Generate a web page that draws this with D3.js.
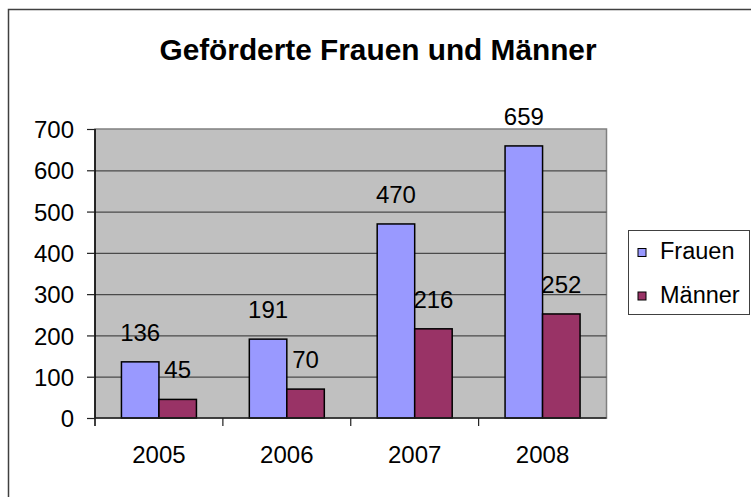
<!DOCTYPE html>
<html>
<head>
<meta charset="utf-8">
<script src="https://cdn.jsdelivr.net/npm/d3@7"></script>
<style>
  html, body { margin: 0; padding: 0; background: #fff; }
  svg { display: block; font-family: "Liberation Sans", Arial, sans-serif; }
</style>
</head>
<body>
<svg id="chart" width="751" height="497"></svg>
<script>
// Daten
const years = ["2005", "2006", "2007", "2008"];
const series = ["Frauen", "Männer"];
const frauen = [136, 191, 470, 659];
const maenner = [45, 70, 216, 252];
const yTicks = [0, 100, 200, 300, 400, 500, 600, 700];
const colors = ["#9999ff", "#993366"];

const svg = d3.select("#chart");

// Rahmen um das ganze Diagramm
svg.append("rect")
  .attr("x", 8.5).attr("y", 9.5)
  .attr("width", 800).attr("height", 600)
  .attr("fill", "#fff")
  .attr("stroke", "#404040")
  .attr("stroke-width", 1.5);

// Titel
svg.append("text")
  .attr("x", 378).attr("y", 59.5)
  .attr("text-anchor", "middle")
  .style("font-size", "29.8px")
  .style("font-weight", "bold")
  .text("Geförderte Frauen und Männer");

// Skalen
const x0 = d3.scaleBand().domain(years).range([95, 606.5]);
const x1 = d3.scaleBand().domain(series)
  .range([0, x0.bandwidth()])
  .paddingInner(0).paddingOuter(0.705);
const y = d3.scaleLinear().domain([0, 700]).range([418, 129]);

// Zeichenfläche
svg.append("rect")
  .attr("x", 95).attr("y", y(700))
  .attr("width", 606.5 - 95).attr("height", y(0) - y(700))
  .attr("fill", "#c0c0c0")
  .attr("stroke", "#808080")
  .attr("stroke-width", 1.5);

// Gitternetzlinien
svg.append("g")
  .selectAll("line")
  .data(yTicks.filter(d => d > 0 && d < 700))
  .enter().append("line")
  .attr("x1", 95).attr("x2", 606.5)
  .attr("y1", d => y(d) + 0.5).attr("y2", d => y(d) + 0.5)
  .attr("stroke", "#4a4a4a")
  .attr("stroke-width", 1.2);

// Balken
const data = years.map((yr, i) => ({ year: yr, values: [frauen[i], maenner[i]] }));

const groups = svg.append("g")
  .selectAll("g")
  .data(data)
  .enter().append("g")
  .attr("transform", d => `translate(${x0(d.year)},0)`);

groups.selectAll("rect")
  .data(d => d.values.map((v, j) => ({ key: series[j], value: v, idx: j })))
  .enter().append("rect")
  .attr("x", d => x1(d.key))
  .attr("y", d => y(d.value))
  .attr("width", x1.bandwidth())
  .attr("height", d => y(0) - y(d.value))
  .attr("fill", d => colors[d.idx])
  .attr("stroke", "#000")
  .attr("stroke-width", 1.5);

groups.selectAll("text")
  .data(d => d.values.map((v, j) => ({ key: series[j], value: v })))
  .enter().append("text")
  .attr("x", d => x1(d.key) + x1.bandwidth() / 2)
  .attr("y", d => y(d.value) - 21)
  .attr("text-anchor", "middle")
  .style("font-size", "24px")
  .text(d => d.value);

// Y-Achse
const yAxis = d3.axisLeft(y).tickValues(yTicks).tickSize(8).tickPadding(13);
const gy = svg.append("g")
  .attr("transform", "translate(95,0)")
  .call(yAxis);
gy.select(".domain").attr("stroke", "#000").attr("stroke-width", 1.5)
  .attr("d", `M0,${y(700)}V${y(0) + 8}`);
gy.selectAll(".tick line").attr("stroke", "#202020").attr("stroke-width", 1.2);
gy.selectAll(".tick text")
  .style("font-size", "24px")
  .style("font-family", "'Liberation Sans', Arial, sans-serif")
  .attr("fill", "#000")
  .attr("dy", "0.36em");

// X-Achse
svg.append("line")
  .attr("x1", 95).attr("x2", 606.5)
  .attr("y1", y(0)).attr("y2", y(0))
  .attr("stroke", "#202020")
  .attr("stroke-width", 1.5);

svg.append("g")
  .selectAll("line")
  .data(years.slice(1))
  .enter().append("line")
  .attr("x1", d => x0(d)).attr("x2", d => x0(d))
  .attr("y1", y(0)).attr("y2", y(0) + 8)
  .attr("stroke", "#202020")
  .attr("stroke-width", 1.2);

svg.append("g")
  .selectAll("text")
  .data(years)
  .enter().append("text")
  .attr("x", d => x0(d) + x0.bandwidth() / 2)
  .attr("y", 463)
  .attr("text-anchor", "middle")
  .style("font-size", "24px")
  .text(d => d);

// Legende
const legend = svg.append("g");
legend.append("rect")
  .attr("x", 628.5).attr("y", 230.5)
  .attr("width", 121).attr("height", 84)
  .attr("fill", "#fff")
  .attr("stroke", "#404040")
  .attr("stroke-width", 1);

const items = legend.selectAll("g.item")
  .data(series)
  .enter().append("g")
  .attr("class", "item")
  .attr("transform", (d, i) => `translate(0,${i * 43.5})`);

items.append("rect")
  .attr("x", 638).attr("y", 248.5)
  .attr("width", 8).attr("height", 8)
  .attr("fill", (d, i) => colors[i])
  .attr("stroke", "#000")
  .attr("stroke-width", 1);

items.append("text")
  .attr("x", 660).attr("y", 259)
  .style("font-size", "23.5px")
  .text(d => d);
</script>
</body>
</html>
